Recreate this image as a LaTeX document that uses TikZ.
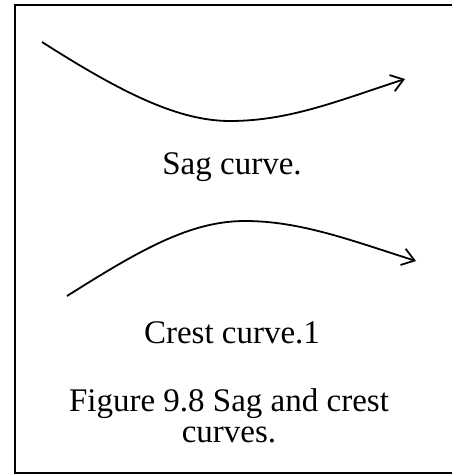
\documentclass[tikz,border=0pt]{standalone}
\usepackage{fontspec}
\setmainfont{Liberation Serif}
\usepackage{tikz}
\usetikzlibrary{arrows.meta}
\tikzstyle{curve} = [line width=1.8pt, -{Straight Barb[length=12pt, width=17pt]}]
\tikzstyle{caption} = [anchor=base, inner sep=0pt, align=center, font=\fontsize{33}{30.5}\selectfont]

\begin{document}
\begin{tikzpicture}[x=1pt, y=-1pt]
\useasboundingbox (0,0) rectangle (451,474);

% Frame
\draw[line width=2.2pt] (15,5) rectangle (456,473);

% End points
\coordinate (sagstart) at (42,42);
\coordinate (sagbottom) at (230,121);
\coordinate (sagend) at (405,79);
\coordinate (creststart) at (67,296);
\coordinate (cresttop) at (245,221);
\coordinate (crestend) at (416,261);

% Curves
\draw [curve] (sagstart) .. controls (125,95) and (180,121) .. (sagbottom) .. controls (290,121) and (340,100) .. (sagend);
\draw [curve] (creststart) .. controls (140,250) and (190,221) .. (cresttop) .. controls (300,221) and (350,240) .. (crestend);

% Labels
\node (saglabel) [caption] at (232,174) {Sag curve.};
\node (crestlabel) [caption] at (232,343) {Crest curve.1};
% base of a two line node is its last line
\node (figcaption) [caption] at (229,442) {Figure 9.8 Sag and crest\\curves.};

\end{tikzpicture}
\end{document}
